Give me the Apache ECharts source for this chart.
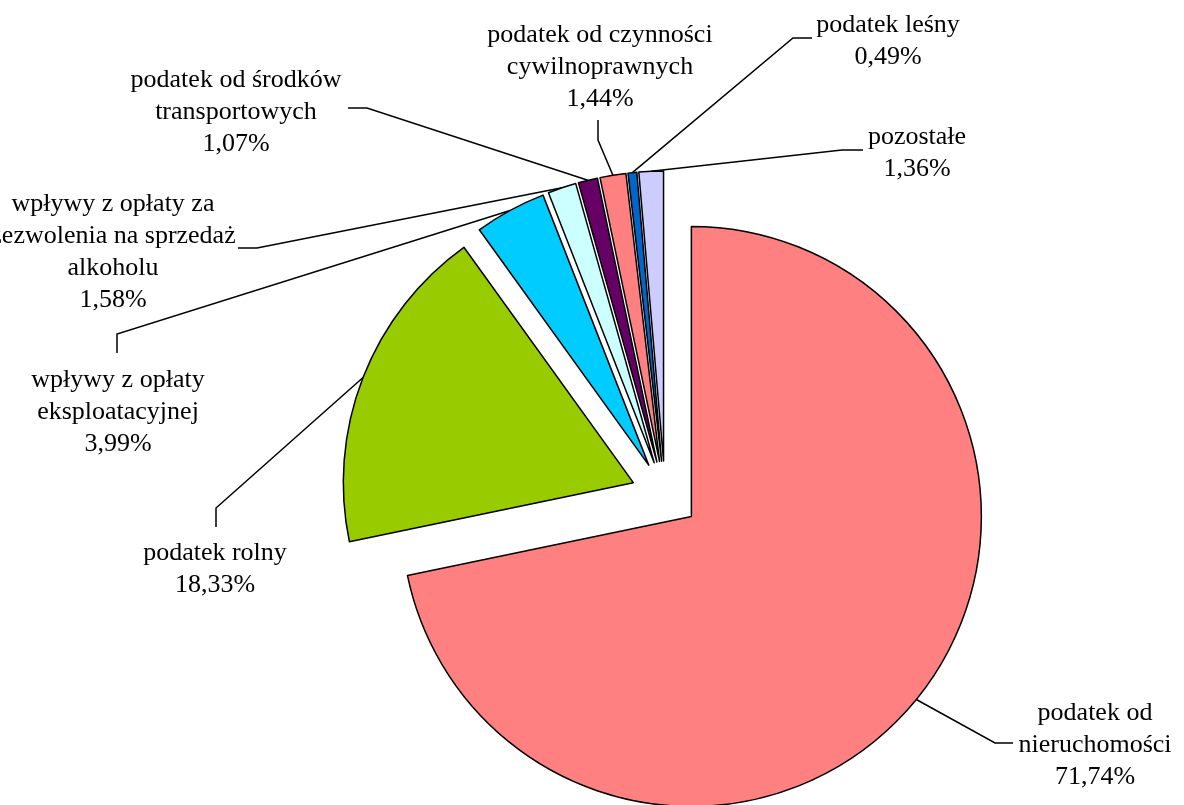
<!DOCTYPE html>
<html><head><meta charset="utf-8">
<script src="https://cdn.jsdelivr.net/npm/echarts/dist/echarts.min.js"></script>
<style>html,body{margin:0;padding:0;background:#fff}#c{width:1184px;height:805px}</style>
</head><body><div id="c"></div>
<script>
const categories = ['podatek od nieruchomości','podatek rolny','wpływy z opłaty eksploatacyjnej','wpływy z opłaty za zezwolenia na sprzedaż alkoholu','podatek od środków transportowych','podatek od czynności cywilnoprawnych','podatek leśny','pozostałe'];
const shares = [71.74, 18.33, 3.99, 1.58, 1.07, 1.44, 0.49, 1.36];
const labelNames = ['podatek od\nnieruchomości','podatek rolny','wpływy z opłaty\neksploatacyjnej','wpływy z opłaty za\nzezwolenia na sprzedaż\nalkoholu','podatek od środków\ntransportowych','podatek od czynności\ncywilnoprawnych','podatek leśny','pozostałe'];
const colors = ['#FF8080','#99CC00','#00CCFF','#CCFFFF','#660066','#FF8080','#0066CC','#CCCCFF'];
// label block centres and leader-line bend/end points (layout only)
const labelPos = [[1095,745],[215,569],[118,412],[113,252],[236,112],[600,67],[888,41],[917,153]];
const leaderPts = [
  [[995,743],[1013,743]],
  [[216,508],[216,527]],
  [[117,334],[117,353]],
  [[257,248],[238,248]],
  [[367,108],[348,108]],
  [[598,140],[598,120]],
  [[793,38],[812,38]],
  [[842,150],[863,150]]
];
const PIE_CENTER = [665, 495], PIE_R = 290, EXPLODE = 34;
const fmt = v => v.toFixed(2).replace('.', ',') + '%';
const pieData = categories.map((n, i) => ({ name: n, value: shares[i] }));
const chart = echarts.init(document.getElementById('c'));
chart.setOption({
  animation: false,
  backgroundColor: '#fff',
  series: [{
    type: 'pie',
    center: PIE_CENTER,
    radius: PIE_R,
    startAngle: 90,
    clockwise: true,
    selectedMode: 'multiple',
    selectedOffset: EXPLODE,
    silent: true,
    itemStyle: { borderColor: '#000', borderWidth: 1.5 },
    label: { show: false },
    labelLine: { show: false },
    emphasis: { disabled: true },
    data: pieData.map((d, i) => ({ ...d, selected: true, itemStyle: { color: colors[i] } }))
  }, {
    // label carrier: same slices, radius reaching the exploded arcs, no fill
    type: 'pie',
    center: PIE_CENTER,
    radius: PIE_R + EXPLODE,
    startAngle: 90,
    clockwise: true,
    silent: true,
    avoidLabelOverlap: false,
    itemStyle: { color: 'rgba(0,0,0,0)', borderWidth: 0 },
    label: {
      show: true, position: 'outside', color: '#000',
      fontFamily: 'Liberation Serif', fontSize: 26, lineHeight: 32, align: 'center',
      formatter: p => labelNames[p.dataIndex] + '\n' + fmt(p.value)
    },
    labelLine: { show: true, smooth: false, lineStyle: { color: '#000', width: 1.5 } },
    labelLayout: function (params) {
      const i = params.dataIndex;
      return {
        x: labelPos[i][0], y: labelPos[i][1], align: 'center', verticalAlign: 'middle',
        labelLinePoints: [params.labelLinePoints[0], leaderPts[i][0], leaderPts[i][1]]
      };
    },
    emphasis: { disabled: true },
    data: pieData
  }]
});
</script></body></html>
